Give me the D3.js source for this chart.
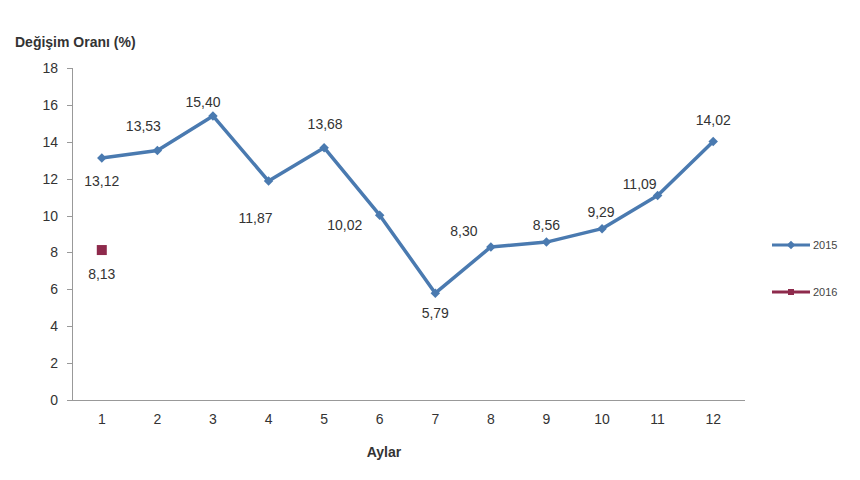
<!DOCTYPE html>
<meta charset="utf-8">
<style>
body { margin: 0; background: #fff; }
svg { font-family: "Liberation Sans", Arial, sans-serif; }
.axis path, .axis line { stroke: #999; shape-rendering: crispEdges; }
.axis text { font-size: 14px; fill: #333; }
.lbl { font-size: 14px; fill: #333; }
</style>
<body>
<svg width="860" height="480"></svg>
<script src="https://d3js.org/d3.v7.min.js"></script>
<script>
var months = [1, 2, 3, 4, 5, 6, 7, 8, 9, 10, 11, 12];
var values2015 = [13.12, 13.53, 15.40, 11.87, 13.68, 10.02, 5.79, 8.30, 8.56, 9.29, 11.09, 14.02];
var values2016 = [8.13];
var yTicks = [0, 2, 4, 6, 8, 10, 12, 14, 16, 18];
var seriesNames = ["2015", "2016"];

// label placement: [dx, dy] relative to point
var place2015 = [[0, 23], [-14, -24], [-10, -14], [-13, 37], [1, -24], [-35, 10], [0, 20], [-27, -16], [0, -17], [-1, -17], [-18, -11], [0, -21]];
var place2016 = [[0, 24]];

var svg = d3.select("svg");
var fmt = function(v) { return v.toFixed(2).replace(".", ","); };

var x = d3.scaleBand().domain(months).range([74, 741]);
var y = d3.scaleLinear().domain([0, 18]).range([400, 68]);

svg.append("g")
    .attr("class", "axis")
    .attr("transform", "translate(72,0)")
    .call(d3.axisLeft(y).tickValues(yTicks).tickSize(5).tickSizeOuter(0).tickPadding(9))
    .call(function(g) { g.select(".domain").attr("d", "M0," + y(18) + "V" + y(0)); });

svg.append("g")
    .attr("class", "axis")
    .attr("transform", "translate(0,400)")
    .call(d3.axisBottom(x).tickSize(0).tickPadding(14))
    .call(function(g) { g.select(".domain").attr("d", "M72,0H745"); });

var cx = function(d, i) { return x(months[i]) + x.bandwidth() / 2; };

var line = d3.line()
    .x(function(d, i) { return cx(d, i); })
    .y(function(d) { return y(d); });

svg.append("path")
    .datum(values2015)
    .attr("d", line)
    .attr("fill", "none")
    .attr("stroke", "#4a7ab0")
    .attr("stroke-width", 3.5)
    .attr("stroke-linejoin", "round");

svg.selectAll(".m15")
    .data(values2015)
    .enter().append("path")
    .attr("class", "m15")
    .attr("d", d3.symbol(d3.symbolSquare, 45)())
    .attr("transform", function(d, i) { return "translate(" + cx(d, i) + "," + y(d) + ") rotate(45)"; })
    .attr("fill", "#4a7ab0");

svg.selectAll(".m16")
    .data(values2016)
    .enter().append("rect")
    .attr("class", "m16")
    .attr("x", function(d, i) { return cx(d, i) - 5; })
    .attr("y", function(d) { return y(d) - 5; })
    .attr("width", 10)
    .attr("height", 10)
    .attr("fill", "#8e2a4c");

svg.selectAll(".l15")
    .data(values2015)
    .enter().append("text")
    .attr("class", "lbl")
    .attr("text-anchor", "middle")
    .attr("x", function(d, i) { return cx(d, i) + place2015[i][0]; })
    .attr("y", function(d, i) { return y(d) + place2015[i][1] + 5; })
    .text(fmt);

svg.selectAll(".l16")
    .data(values2016)
    .enter().append("text")
    .attr("class", "lbl")
    .attr("text-anchor", "middle")
    .attr("x", function(d, i) { return cx(d, i) + place2016[i][0]; })
    .attr("y", function(d, i) { return y(d) + place2016[i][1] + 5; })
    .text(fmt);

svg.append("text")
    .attr("x", 15).attr("y", 47)
    .attr("font-size", 14).attr("font-weight", "bold").attr("fill", "#333")
    .text("Değişim Oranı (%)");

svg.append("text")
    .attr("x", 384).attr("y", 457)
    .attr("text-anchor", "middle")
    .attr("font-size", 14).attr("font-weight", "bold").attr("fill", "#333")
    .text("Aylar");

// legend
var legColors = ["#4a7ab0", "#8e2a4c"];
var leg = svg.selectAll(".leg")
    .data(seriesNames)
    .enter().append("g")
    .attr("class", "leg")
    .attr("transform", function(d, i) { return "translate(772," + (245 + i * 47) + ")"; });
leg.append("line")
    .attr("x1", 0).attr("x2", 38)
    .attr("stroke", function(d, i) { return legColors[i]; })
    .attr("stroke-width", 3);
leg.append("path")
    .attr("d", d3.symbol(d3.symbolSquare, 36)())
    .attr("transform", function(d, i) { return "translate(19,0)" + (i === 0 ? " rotate(45)" : ""); })
    .attr("fill", function(d, i) { return legColors[i]; });
leg.append("text")
    .attr("x", 41).attr("y", 4)
    .attr("font-size", 11).attr("fill", "#444")
    .text(function(d) { return d; });
</script>
